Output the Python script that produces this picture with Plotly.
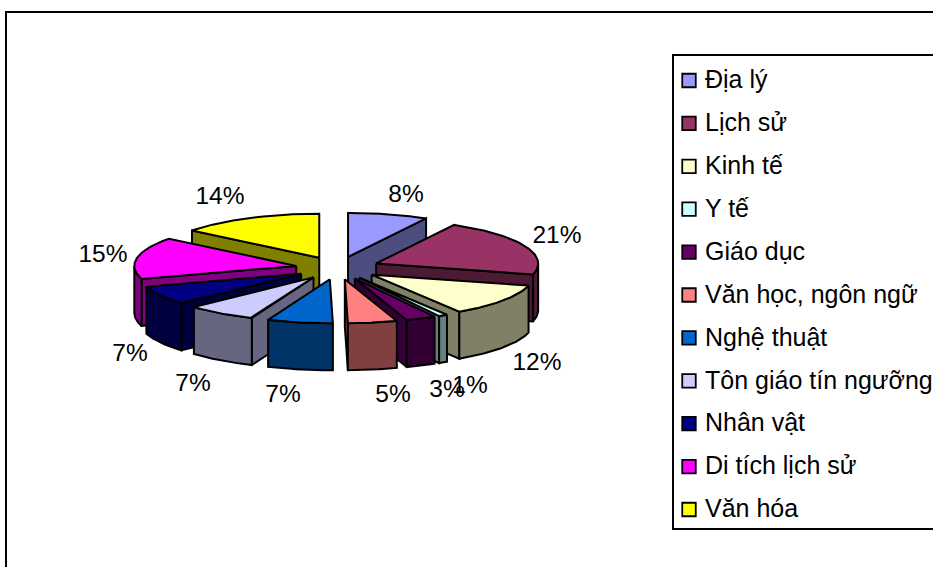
import numpy as np
import plotly.graph_objects as go

CATEGORIES = ["Địa lý", "Lịch sử", "Kinh tế", "Y tế", "Giáo dục", "Văn học, ngôn ngữ",
              "Nghệ thuật", "Tôn giáo tín ngưỡng", "Nhân vật", "Di tích lịch sử", "Văn hóa"]
VALUES = [8.0, 21.0, 11.9, 0.9, 3.0, 4.9, 6.52, 7.0, 7.0, 15.4, 14.38]
TOP_COLORS = ["#9999FF", "#993366", "#FFFFCC", "#CCFFFF", "#660066", "#FF8080",
              "#0066CC", "#CCCCFF", "#000080", "#FF00FF", "#FFFF00"]
SIDE_COLORS = ["#4D4D80", "#4D1A33", "#808066", "#668080", "#330033", "#804040",
               "#003366", "#666680", "#000040", "#800080", "#808000"]

# Layout of the drawing, in page pixels
LABEL_XY = [(406, 196), (557, 237), (537, 364), (470, 387), (447, 391), (393, 396),
            (283, 396), (193, 385), (130, 355), (103, 256), (220, 198)]
CX, CY, RX, RY, EXPLODE, DEPTH = 337.6, 268.0, 162.0, 44.0, 42.0, 47.0
FONT = "Liberation Sans, Arial, sans-serif"
W, H = 933, 567
LEG_X0, LEG_Y0, LEG_Y1 = 673, 55, 529
LEG_ROW0, LEG_STEP = 80.5, 42.9

fig = go.Figure()


def face(xs, ys, color):
    fig.add_trace(go.Scatter(x=list(xs), y=list(ys), mode="lines", fill="toself",
                             fillcolor=color, line=dict(color="black", width=2),
                             hoverinfo="skip", showlegend=False))


fractions = np.cumsum([0] + VALUES) / sum(VALUES) * 2 * np.pi
wedges = []
for i in range(len(VALUES)):
    a1, a2 = fractions[i], fractions[i + 1]
    wedges.append((-np.cos((a1 + a2) / 2), i, a1, a2))

for _, i, a1, a2 in sorted(wedges):
    mid = (a1 + a2) / 2
    ax = CX + EXPLODE * np.sin(mid)
    ay = CY - EXPLODE * (RY / RX) * np.cos(mid)
    rim = lambda t: (ax + RX * np.sin(t), ay - RY * np.cos(t))
    side = SIDE_COLORS[i]
    # radial cut faces, when they face the viewer
    for t, visible in ((a1, np.sin(a1) < -1e-9), (a2, np.sin(a2) > 1e-9)):
        if visible:
            rx, ry = rim(t)
            face([ax, rx, rx, ax, ax], [ay, ry, ry + DEPTH, ay + DEPTH, ay], side)
    # outer wall, only the front half of the rim
    lo, hi = max(a1, np.pi / 2), min(a2, 3 * np.pi / 2)
    if hi > lo:
        ts = np.linspace(lo, hi, 40)
        px, py = rim(ts)
        face(np.r_[px, px[::-1], px[0]], np.r_[py, py[::-1] + DEPTH, py[0]], side)
    # top face
    ts = np.linspace(a1, a2, 60)
    px, py = rim(ts)
    face(np.r_[ax, px, ax], np.r_[ay, py, ay], TOP_COLORS[i])

# percentage labels
fig.add_trace(go.Scatter(x=[p[0] for p in LABEL_XY], y=[p[1] for p in LABEL_XY],
                         mode="text", text=[f"{int(v + 0.5)}%" for v in VALUES],
                         textposition="middle center",
                         textfont=dict(family=FONT, size=24.5, color="black"),
                         hoverinfo="skip", showlegend=False))

# legend
rows = [LEG_ROW0 + LEG_STEP * k for k in range(len(CATEGORIES))]
fig.add_trace(go.Scatter(x=[689] * len(rows), y=rows, mode="markers",
                         marker=dict(symbol="square", size=13.5, color=TOP_COLORS,
                                     line=dict(color="black", width=1.8)),
                         hoverinfo="skip", showlegend=False))
fig.add_trace(go.Scatter(x=[705] * len(rows), y=[r + 1.5 for r in rows], mode="text",
                         text=CATEGORIES, textposition="middle right",
                         textfont=dict(family=FONT, size=25, color="black"),
                         hoverinfo="skip", showlegend=False))

fig.update_layout(
    width=W, height=H, autosize=False,
    margin=dict(l=0, r=0, t=0, b=0),
    paper_bgcolor="white", plot_bgcolor="white", showlegend=False,
    xaxis=dict(range=[0, W], visible=False, fixedrange=True),
    yaxis=dict(range=[H, 0], visible=False, fixedrange=True),
    shapes=[
        dict(type="rect", xref="x", yref="y", x0=6, y0=12, x1=W + 20, y1=H + 20,
             line=dict(color="black", width=2), layer="below"),
        dict(type="rect", xref="x", yref="y", x0=LEG_X0, y0=LEG_Y0, x1=W + 20, y1=LEG_Y1,
             line=dict(color="black", width=2), layer="below"),
    ],
)
fig.write_html("out.html", config=dict(displayModeBar=False),
               post_script="document.body.style.margin='0';document.documentElement.style.overflow='hidden';")
